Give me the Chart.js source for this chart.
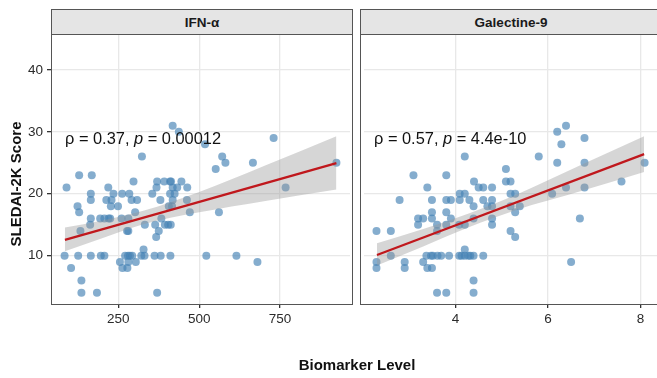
<!DOCTYPE html>
<html>
<head>
<meta charset="utf-8">
<script src="https://cdn.jsdelivr.net/npm/chart.js@4"></script>
<style>
  html, body { margin: 0; padding: 0; background: #fff; }
  body { width: 657px; height: 378px; position: relative; overflow: hidden; font-family: "Liberation Sans", Arial, sans-serif; }
  canvas { position: absolute; top: 0; }
  .strip { position: absolute; top: 9px; height: 26px; box-sizing: border-box; border: 1px solid #555; background: #e5e5e5;
           display: flex; align-items: center; justify-content: center; font-weight: bold; font-size: 13.5px; color: #1a1a1a; }
  .panel { position: absolute; top: 34px; height: 271px; box-sizing: border-box; border: 1px solid #555; pointer-events: none; }
  .note { position: absolute; top: 130px; font-size: 16.4px; line-height: 16px; color: #111; white-space: nowrap; }
  .ytitle { position: absolute; left: 15px; top: 184px; transform: translate(-50%, -50%) rotate(-90deg);
            font-weight: bold; font-size: 15px; white-space: nowrap; color: #111; }
  .xtitle { position: absolute; left: 357px; top: 357px; transform: translateX(-50%);
            font-weight: bold; font-size: 15px; line-height: 15px; white-space: nowrap; color: #111; }
</style>
</head>
<body>
<canvas id="left" width="354" height="378" style="left:0;width:354px;height:378px"></canvas>
<canvas id="right" width="302" height="378" style="left:360px;width:302px;height:378px"></canvas>

<div class="strip" style="left:51px;width:302px">IFN-α</div>
<div class="strip" style="left:360px;width:302px">Galectine-9</div>
<div class="panel" style="left:51px;width:302px"></div>
<div class="panel" style="left:360px;width:302px"></div>
<div class="note" style="left:65px">ρ = 0.37, <i>p</i> = 0.00012</div>
<div class="note" style="left:374px">ρ = 0.57, <i>p</i> = 4.4e-10</div>
<div class="ytitle">SLEDAI-2K Score</div>
<div class="xtitle">Biomarker Level</div>

<script>
// 軸の目盛り
const yTicks = [10, 20, 30, 40];
const ifnTicks = [250, 500, 750];
const galTicks = [4, 6, 8];

// IFN-α パネルの点
const ifnLevel = [136, 184, 370, 136, 104, 263, 278, 255, 281, 304, 680,
    84, 126, 165, 196, 207, 271, 280, 286, 293, 321, 331, 362, 381, 411, 522, 615,
    328, 367, 133, 277, 281, 375, 163, 332, 364, 394, 404, 412,
    165, 194, 207, 220, 225, 260, 281, 383, 129, 302, 471, 561,
    124, 227, 249, 406, 416, 165, 213, 229, 291, 308, 380, 418, 462,
    165, 235, 262, 284, 355, 410, 424, 90, 219, 368, 418, 432, 463, 767,
    297, 370, 392, 410, 413, 445, 129, 168, 551, 581, 666, 924, 323, 571,
    518, 730, 437, 418];
const ifnScore = [4, 4, 4, 6, 8, 8, 8, 9, 9, 9, 9,
    10, 10, 10, 10, 10, 10, 10, 10, 10, 10, 10, 10, 10, 10, 10, 10,
    11, 13, 14, 14, 14, 14, 15, 15, 15, 15, 15, 15,
    16, 16, 16, 16, 16, 16, 16, 16, 17, 17, 17, 17,
    18, 18, 18, 18, 18, 19, 19, 19, 19, 19, 19, 19, 19,
    20, 20, 20, 20, 20, 20, 20, 21, 21, 21, 21, 21, 21, 21,
    22, 22, 22, 22, 22, 22, 23, 23, 24, 25, 25, 25, 26, 26,
    28, 29, 30, 31];

// Galectine-9 パネルの点
const galLevel = [3.60, 3.80, 4.39, 4.39, 2.29, 2.90, 3.39, 3.49, 2.29, 2.90, 3.30, 6.50,
    2.60, 3.37, 3.47, 3.51, 3.61, 3.69, 3.86, 4.08, 4.13, 4.20, 4.28, 4.32, 4.39, 4.60,
    4.20, 5.29, 2.29, 2.60, 3.60, 5.19, 3.19, 3.60, 3.80, 4.08, 4.20, 4.79,
    3.19, 3.30, 3.49, 3.90, 4.39, 4.79, 6.69, 3.49, 3.80, 5.29,
    4.39, 4.69, 4.79, 5.19, 5.39, 2.79, 3.49, 3.80, 3.90, 4.09, 4.30, 4.60, 4.79,
    4.09, 4.20, 5.19, 5.29, 6.09, 3.39, 4.50, 4.60, 4.79, 6.39, 6.79,
    4.40, 5.09, 5.19, 7.59, 3.09, 3.80, 5.09, 6.20, 6.79, 8.09, 4.20, 5.80,
    6.29, 6.79, 6.20, 6.39];
const galScore = [4, 4, 4, 6, 8, 8, 8, 8, 9, 9, 9, 9,
    10, 10, 10, 10, 10, 10, 10, 10, 10, 10, 10, 10, 10, 10,
    11, 13, 14, 14, 14, 14, 15, 15, 15, 15, 15, 15,
    16, 16, 16, 16, 16, 16, 16, 17, 17, 17,
    18, 18, 18, 18, 18, 19, 19, 19, 19, 19, 19, 19, 19,
    20, 20, 20, 20, 20, 21, 21, 21, 21, 21, 21,
    22, 22, 22, 22, 23, 23, 24, 25, 25, 25, 26, 26,
    28, 29, 30, 31];

// 回帰直線と信頼区間
const ifnFitX = [85, 924];
const ifnFitY = [12.55, 24.95];
const ifnBandX = [85, 200, 330, 500, 700, 924];
const ifnBandHi = [14.55, 15.7, 17.3, 20.3, 24.5, 29.3];
const ifnBandLo = [10.7, 12.8, 15.1, 17.0, 18.8, 20.7];

const galFitX = [2.30, 8.08];
const galFitY = [10.1, 26.4];
const galBandX = [2.30, 3.30, 4.30, 5.30, 6.70, 8.08];
const galBandHi = [12.0, 14.3, 16.85, 19.8, 24.6, 29.3];
const galBandLo = [8.4, 11.5, 14.65, 17.35, 20.4, 23.5];

function pairs(xs, ys) {
    return xs.map((x, i) => ({ x: x, y: ys[i] }));
}

function makePanel(id, p) {
    const ctx = document.getElementById(id).getContext('2d');
    return new Chart(ctx, {
        type: 'scatter',
        data: {
            datasets: [
                {
                    data: pairs(p.level, p.score),
                    backgroundColor: 'rgba(70, 130, 180, 0.66)',
                    borderWidth: 0,
                    pointRadius: 4,
                    order: 3
                },
                {
                    type: 'line',
                    data: pairs(p.bandX, p.bandHi),
                    borderWidth: 0,
                    pointRadius: 0,
                    tension: 0.4,
                    cubicInterpolationMode: 'monotone',
                    fill: false,
                    order: 2
                },
                {
                    type: 'line',
                    data: pairs(p.bandX, p.bandLo),
                    borderWidth: 0,
                    pointRadius: 0,
                    tension: 0.4,
                    cubicInterpolationMode: 'monotone',
                    backgroundColor: 'rgba(153, 153, 153, 0.4)',
                    fill: '-1',
                    order: 2
                },
                {
                    type: 'line',
                    data: pairs(p.fitX, p.fitY),
                    borderColor: '#c0181d',
                    borderWidth: 2.2,
                    pointRadius: 0,
                    fill: false,
                    order: 1
                }
            ]
        },
        options: {
            responsive: false,
            animation: false,
            devicePixelRatio: 1,
            layout: { padding: { top: 34, left: 0, right: p.padRight, bottom: 0 } },
            scales: {
                x: {
                    type: 'linear',
                    min: p.xMin,
                    max: p.xMax,
                    afterBuildTicks: s => { s.ticks = p.xTicks.map(v => ({ value: v })); },
                    afterFit: s => { s.height = 74; },
                    grid: { color: '#e8e8e8', lineWidth: 1.3, tickLength: 4, tickColor: '#333' },
                    border: { display: false },
                    ticks: { color: '#2b2b2b', padding: 3, font: { family: 'Liberation Sans', size: 13.5 } }
                },
                y: {
                    min: 2.2,
                    max: 45.8,
                    afterBuildTicks: s => { s.ticks = yTicks.map(v => ({ value: v })); },
                    afterFit: s => { s.width = p.yWidth; },
                    grid: { color: '#e8e8e8', lineWidth: 1.3, tickLength: p.yWidth ? 4 : 0,
                            drawTicks: p.yWidth > 0, tickColor: '#333' },
                    border: { display: false },
                    ticks: { display: p.yWidth > 0, color: '#2b2b2b', padding: 4,
                             font: { family: 'Liberation Sans', size: 13.5 } }
                }
            },
            plugins: {
                legend: { display: false },
                tooltip: { enabled: false }
            }
        }
    });
}

makePanel('left', {
    level: ifnLevel, score: ifnScore,
    fitX: ifnFitX, fitY: ifnFitY,
    bandX: ifnBandX, bandHi: ifnBandHi, bandLo: ifnBandLo,
    xMin: 42, xMax: 966, xTicks: ifnTicks,
    yWidth: 51, padRight: 1
});

makePanel('right', {
    level: galLevel, score: galScore,
    fitX: galFitX, fitY: galFitY,
    bandX: galBandX, bandHi: galBandHi, bandLo: galBandLo,
    xMin: 2.02, xMax: 8.38, xTicks: galTicks,
    yWidth: 0, padRight: 0
});
</script>
</body>
</html>
